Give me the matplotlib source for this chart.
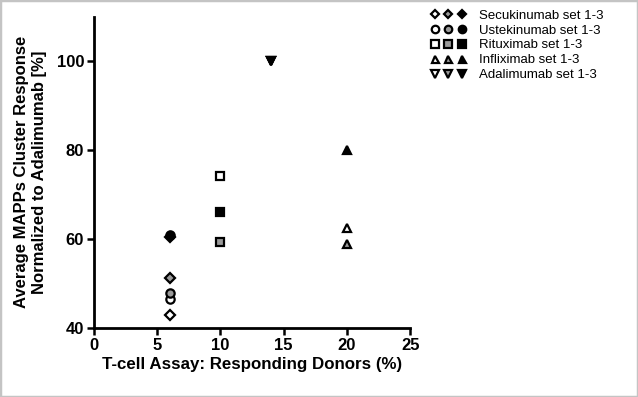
import numpy as np
import matplotlib.pyplot as plt
from matplotlib.legend_handler import HandlerTuple
from matplotlib.patches import Rectangle

plt.rcParams['font.family'] = ['Liberation Sans', 'DejaVu Sans']

# values
drugs = ['Secukinumab', 'Ustekinumab', 'Rituximab', 'Infliximab', 'Adalimumab']
markers = ['D', 'o', 's', '^', 'v']
marker_sizes = [4.6, 6, 6, 5.6, 6]
donors = [6, 6, 10, 20, 14]
set1 = [43.0, 46.5, 74.2, 62.4, 100.0]   # open
set2 = [51.3, 47.8, 59.4, 58.8, 100.0]   # grey
set3 = [60.5, 61.0, 66.1, 80.0, 100.0]   # black
fills = ['white', '#9a9a9a', 'black']

fig = plt.figure(figsize=(6.38, 3.97), dpi=100)
ax = fig.add_axes([0.147, 0.174, 0.496, 0.784])

handles = []
for i, drug in enumerate(drugs):
    row = []
    for vals, fc in zip([set1, set2, set3], fills):
        h, = ax.plot(donors[i], vals[i], linestyle='none', marker=markers[i],
                     markersize=marker_sizes[i], markerfacecolor=fc,
                     markeredgecolor='black', markeredgewidth=1.6)
        row.append(h)
    handles.append(tuple(row))

ax.set_xlim(0, 25)
ax.set_ylim(40, 110)
ax.set_xticks(np.arange(0, 26, 5))
ax.set_yticks([40, 60, 80, 100])
for s in ['top', 'right']:
    ax.spines[s].set_visible(False)
for s in ['left', 'bottom']:
    ax.spines[s].set_linewidth(2)
ax.tick_params(direction='out', length=5, width=1.8, labelsize=12, pad=2)
for lab in ax.get_xticklabels() + ax.get_yticklabels():
    lab.set_fontweight('bold')

ax.set_xlabel('T-cell Assay: Responding Donors (%)', fontsize=12.2, fontweight='bold', labelpad=3)
ax.set_ylabel('Average MAPPs Cluster Response\nNormalized to Adalimumab [%]', fontsize=12,
              fontweight='bold', labelpad=7)

leg = fig.legend(handles, [d + ' set 1-3' for d in drugs],
                 handler_map={tuple: HandlerTuple(ndivide=None, pad=0.5)},
                 loc='upper left', bbox_to_anchor=(0.657, 1.006), frameon=False,
                 fontsize=9.5, handlelength=2.6, handletextpad=1.0, labelspacing=0.2,
                 markerscale=0.9)

fig.add_artist(Rectangle((0, 0), 1, 1, transform=fig.transFigure, fill=False,
                         edgecolor='#c4c4c4', linewidth=2.5))

fig.savefig('out.png', dpi=100)
